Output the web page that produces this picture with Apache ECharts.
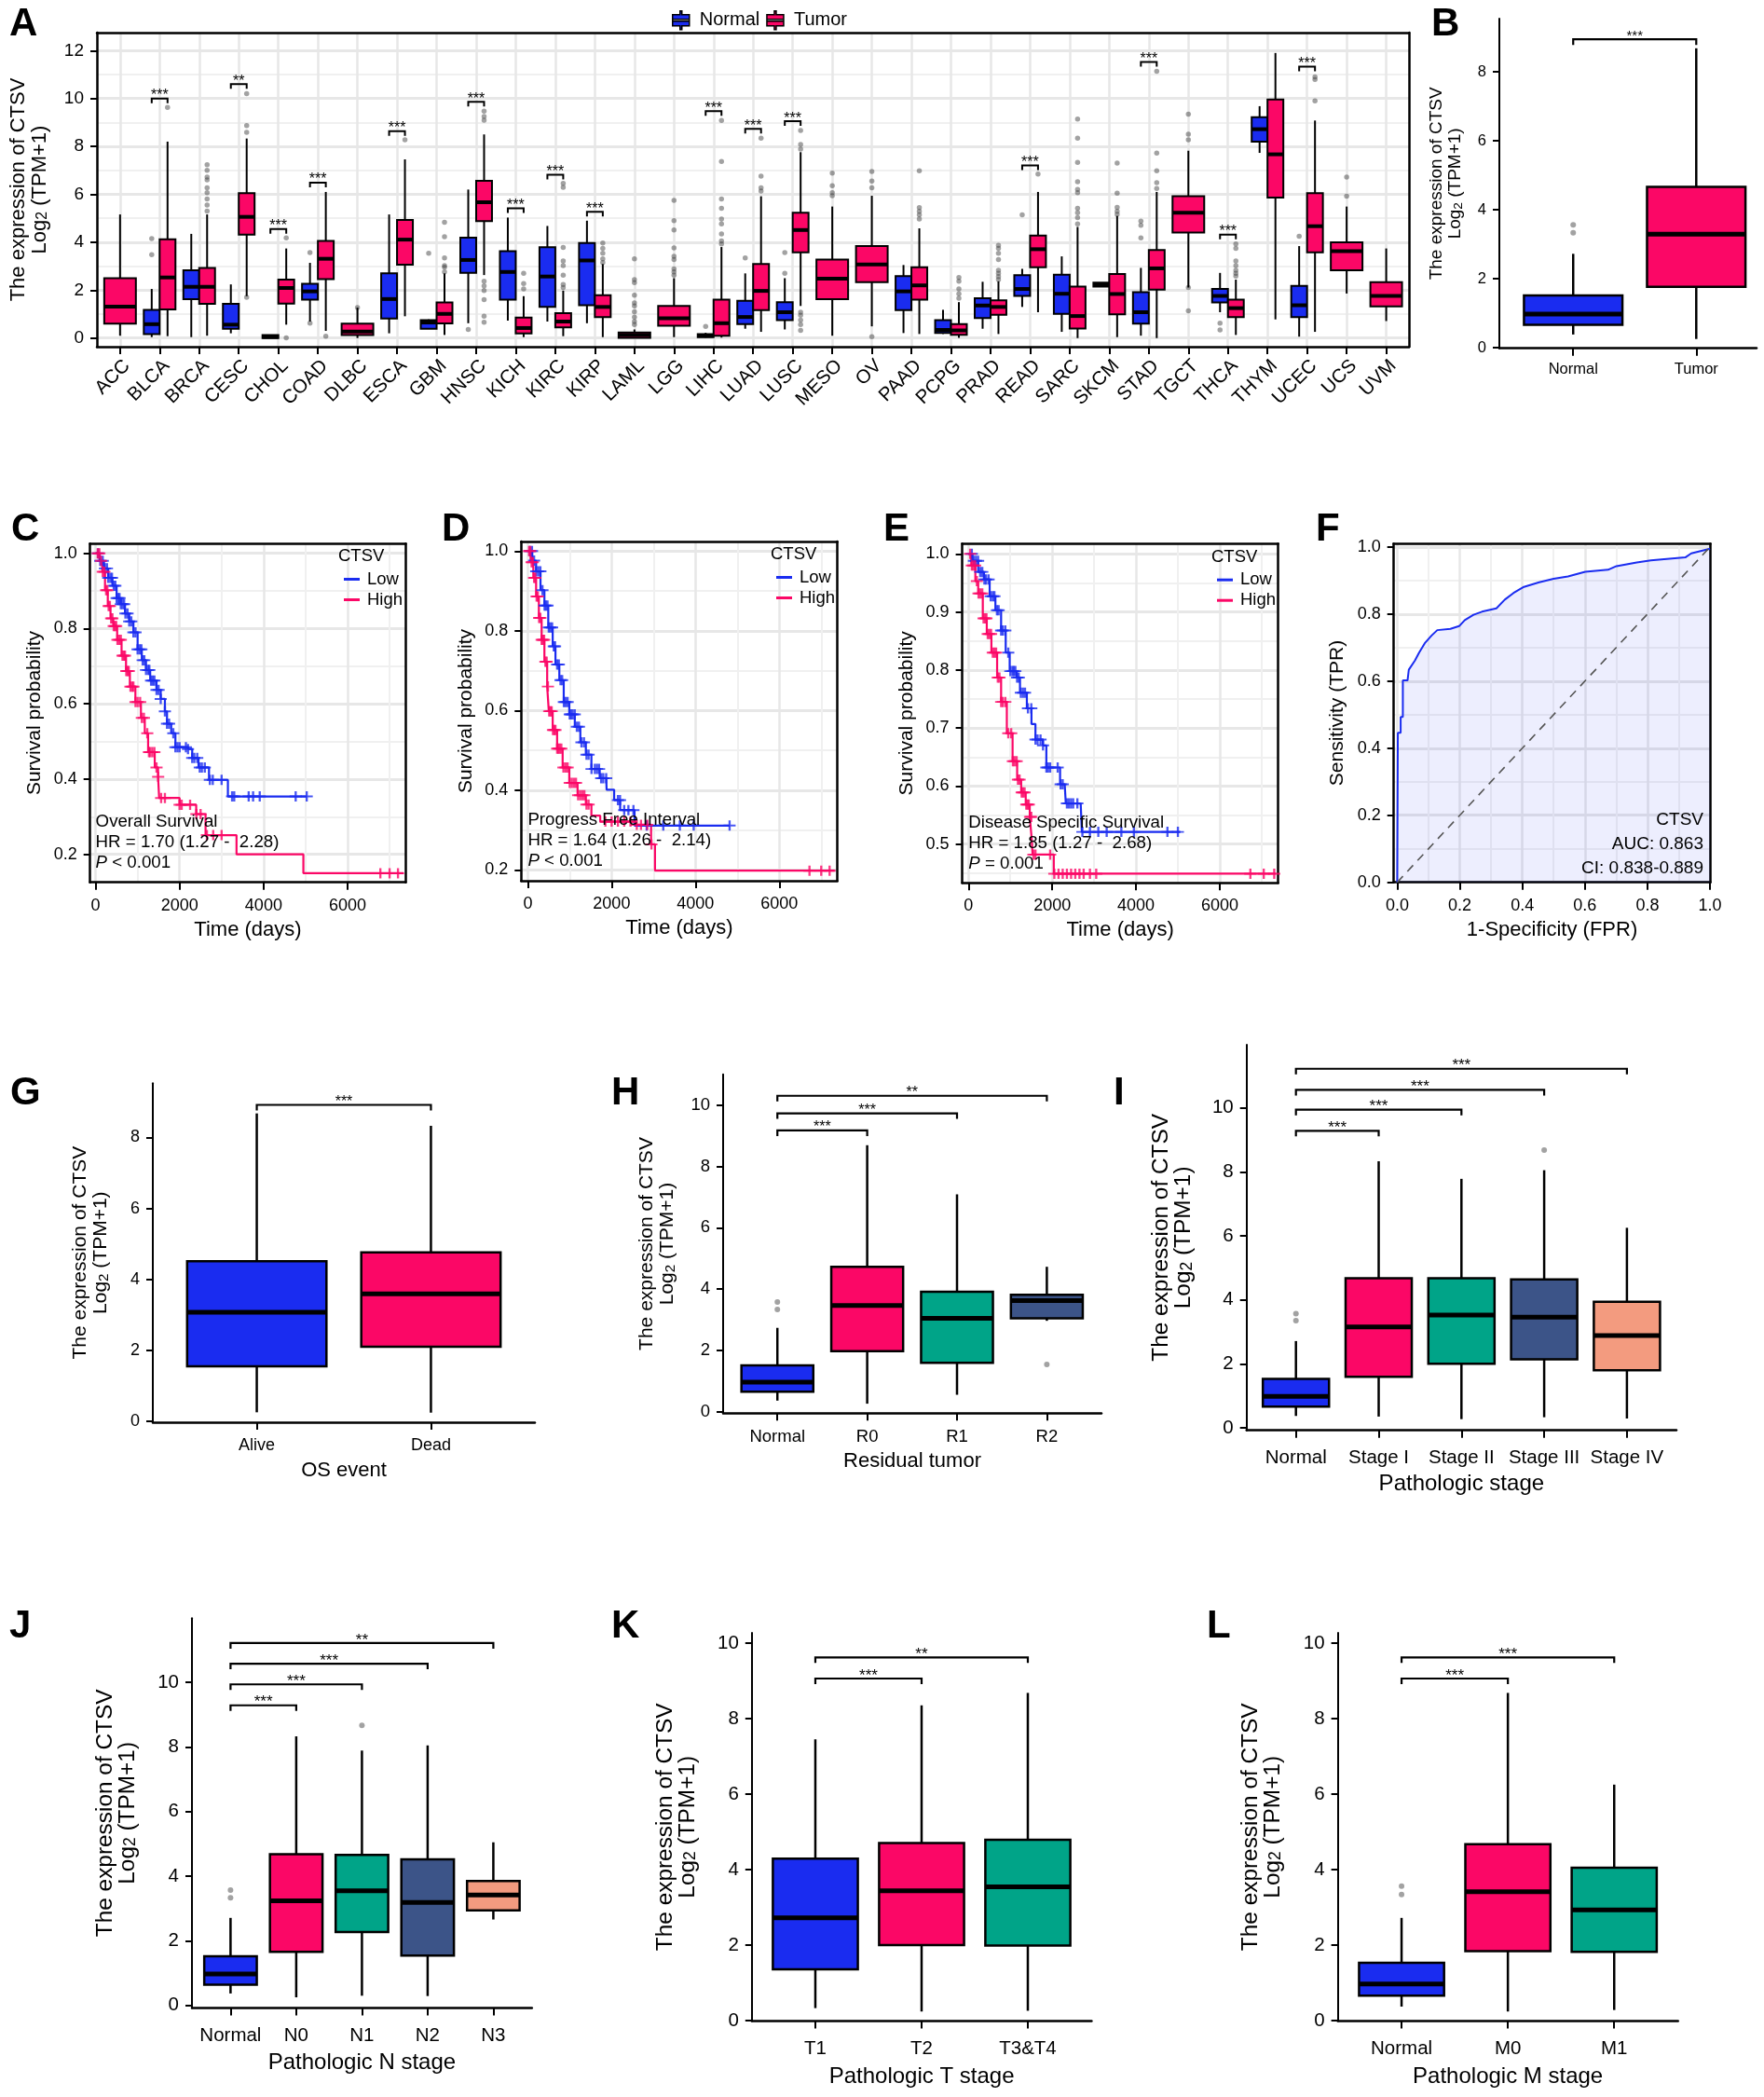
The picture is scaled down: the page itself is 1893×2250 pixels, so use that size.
<!DOCTYPE html>
<html>
<head>
<meta charset="utf-8">
<style>html,body{margin:0;padding:0;background:#fff}#main{width:1893px;height:2250px}</style>
<script src="https://cdn.jsdelivr.net/npm/echarts@6/dist/echarts.min.js"></script>
</head>
<body>
<div id="main"></div>
<script>
// box values are [low whisker, q1, median, q3, high whisker]
var aCategories = ['ACC','BLCA','BRCA','CESC','CHOL','COAD','DLBC','ESCA','GBM','HNSC','KICH','KIRC','KIRP','LAML','LGG','LIHC','LUAD','LUSC','MESO','OV','PAAD','PCPG','PRAD','READ','SARC','SKCM','STAD','TGCT','THCA','THYM','UCEC','UCS','UVM'];
var aNormal = [null,[0.04,0.17,0.58,1.18,2.05],[0.04,1.62,2.14,2.83,4.35],[0.2,0.39,0.56,1.43,2.24],[0.03,0.0,0.05,0.13,0.14],[0.69,1.6,1.95,2.27,3.14],null,[0.2,0.82,1.63,2.7,5.16],[0.39,0.39,0.65,0.75,0.78],[0.62,2.72,3.26,4.19,6.2],[0.73,1.6,2.76,3.63,5.03],[0.69,1.3,2.57,3.79,4.68],[0.62,1.37,3.24,3.97,4.9],null,null,[0.02,0.04,0.1,0.17,0.22],[0.39,0.58,0.88,1.56,2.7],[0.36,0.75,1.08,1.5,2.5],null,null,[0.21,1.17,1.95,2.59,3.05],[0.17,0.21,0.34,0.75,1.18],[0.39,0.84,1.36,1.66,2.35],[1.3,1.76,2.05,2.63,2.89],[0.26,1.01,1.85,2.65,3.41],[2.15,2.15,2.23,2.31,2.31],[0.1,0.6,1.08,1.92,2.93],null,[1.08,1.49,1.76,2.05,2.72],[7.73,8.2,8.72,9.22,9.68],[0.06,0.88,1.37,2.18,3.84],null,null];
var aTumor = [[0.1,0.6,1.31,2.5,5.16],[0.08,1.2,2.53,4.12,8.2],[0.1,1.43,2.14,2.93,5.16],[1.75,4.32,5.06,6.05,8.33],[0.56,1.44,2.09,2.44,3.74],[0.3,2.46,3.31,4.06,6.1],[0.0,0.13,0.27,0.6,1.27],[0.91,3.06,4.11,4.93,7.46],[0.13,0.61,1.01,1.49,2.7],[2.63,4.88,5.67,6.56,8.5],[0.04,0.19,0.42,0.86,1.75],[0.08,0.45,0.69,1.04,1.98],[0.04,0.88,1.3,1.79,3.09],[0.01,0.01,0.13,0.23,0.36],[0.04,0.52,0.83,1.34,2.5],[0.02,0.1,0.62,1.6,3.8],[0.26,1.17,1.97,3.09,5.92],[1.34,3.58,4.51,5.23,7.76],[0.1,1.62,2.48,3.28,5.49],[0.49,2.33,3.07,3.84,5.94],[0.17,1.6,2.2,2.96,4.58],[0.01,0.14,0.32,0.58,1.5],[0.17,0.97,1.3,1.58,2.37],[1.08,2.96,3.71,4.28,6.1],[0.0,0.4,0.92,2.15,4.64],[0.04,0.99,1.84,2.67,5.1],[0.0,2.02,2.91,3.68,6.1],[2.11,4.41,5.23,5.92,7.82],[0.13,0.88,1.25,1.6,2.44],[0.78,5.86,7.67,9.96,11.9],[0.26,3.58,4.67,6.05,9.08],[1.86,2.83,3.63,4.0,5.49],[0.71,1.32,1.76,2.33,3.74]];
var aNormalOutliers = [[],[4.15,3.48],[],[],[],[3.57,0.62],[],[],[3.54],[0.36],[],[],[],[],[],[0.49],[3.35],[3.57,2.7],[],[],[],[],[],[5.14],[],[],[4.88,4.71,4.18],[],[0.62,0.34],[],[4.25],[],[]];
var aTumorOutliers = [[],[9.63],[7.24,7.0,6.72,6.6,6.27,6.07,5.81,5.55,5.3],[10.2,8.87,8.59,1.7],[4.18,0.01],[0.08],[1.27],[8.28],[4.83,4.23,3.35,3.02,2.96,2.76],[9.47,9.25,9.09,2.37,2.18,1.98,1.6,0.91,0.66],[2.7,2.28,2.05],[6.46,6.29,3.78,3.22,3.02,2.63,2.24,2.11],[3.97,3.74,3.54,3.31,3.15],[3.31,2.44,2.31,1.79,1.47,1.34,1.1,0.88,0.69,0.56],[5.75,4.9,4.51,3.76,3.41,3.28,2.89,2.76,2.63],[9.08,7.37,5.81,5.42,4.97,4.77,4.35,4.06,3.93],[8.34,6.76,6.27,6.14],[8.67,8.08,7.89,1.08,0.95,0.75,0.56,0.32],[6.89,6.36,6.07,5.94],[6.95,6.55,6.27,0.06],[6.98,5.45,5.29,5.14,4.97],[2.53,2.37,2.05,1.85,1.66],[3.87,3.74,3.54,3.28,2.83,2.7,2.57,2.44],[6.85],[9.14,8.34,7.33,6.53,6.2,6.07,5.42,5.23,5.03,4.77],[7.3,6.05,5.46,5.29,5.16],[11.14,7.72,6.98,6.49,6.24],[9.35,8.51,8.28,2.11,1.14],[3.93,3.74,3.22,3.02,2.83,2.7,2.59],[],[10.9,10.8,9.9],[6.72,5.92],[]];
// [category index, bracket height, stars]
var aBrackets = [[1,10.0,'***'],[3,10.6,'**'],[4,4.55,'***'],[5,6.49,'***'],[7,8.64,'***'],[9,9.86,'***'],[10,5.42,'***'],[11,6.82,'***'],[12,5.27,'***'],[15,9.47,'***'],[16,8.73,'***'],[17,9.05,'***'],[23,7.21,'***'],[26,11.52,'***'],[28,4.32,'***'],[30,11.33,'***']];

var bCategories = ['Normal','Tumor'];
var bBoxes = [[0.38,0.66,0.97,1.51,2.72],[0.25,1.76,3.29,4.66,8.68]];
var bOutliers = [[3.56,3.33],[]];
var bBrackets = [[0,1,8.94,'***']];

var gCategories = ['Alive','Dead'];
var gBoxes = [[0.25,1.55,3.07,4.51,8.68],[0.24,2.1,3.59,4.76,8.33]];
var gOutliers = [[],[]];
var gBrackets = [[0,1,8.92,'***']];

var hCategories = ['Normal','R0','R1','R2'];
var hBoxes = [[0.37,0.66,0.97,1.52,2.74],[0.27,1.98,3.47,4.73,8.69],[0.56,1.6,3.05,3.92,7.09],[2.97,3.05,3.63,3.82,4.73]];
var hOutliers = [[3.58,3.34],[],[],[1.55]];
var hBrackets = [[0,1,9.17,'***'],[0,2,9.73,'***'],[0,3,10.3,'**']];

var iCategories = ['Normal','Stage I','Stage II','Stage III','Stage IV'];
var iBoxes = [[0.37,0.66,0.98,1.53,2.71],[0.35,1.59,3.15,4.67,8.33],[0.27,2.0,3.52,4.67,7.78],[0.33,2.14,3.46,4.64,8.05],[0.29,1.8,2.88,3.94,6.25]];
var iOutliers = [[3.57,3.35],[],[],[8.68],[]];
var iBrackets = [[0,1,9.28,'***'],[0,2,9.94,'***'],[0,3,10.56,'***'],[0,4,11.22,'***']];

var jCategories = ['Normal','N0','N1','N2','N3'];
var jBoxes = [[0.37,0.64,0.97,1.52,2.71],[0.25,1.66,3.24,4.68,8.33],[0.3,2.27,3.55,4.66,7.89],[0.29,1.54,3.19,4.52,8.05],[2.66,2.94,3.42,3.85,5.05]];
var jOutliers = [[3.57,3.33],[],[8.67],[],[]];
var jBrackets = [[0,1,9.29,'***'],[0,2,9.94,'***'],[0,3,10.58,'***'],[0,4,11.22,'**']];

var kCategories = ['T1','T2','T3&T4'];
var kBoxes = [[0.33,1.36,2.72,4.29,7.45],[0.24,2.0,3.44,4.7,8.35],[0.26,1.99,3.54,4.79,8.68]];
var kOutliers = [[],[],[]];
var kBrackets = [[0,1,9.06,'***'],[0,2,9.62,'**']];

var lCategories = ['Normal','M0','M1'];
var lBoxes = [[0.37,0.66,0.97,1.53,2.72],[0.24,1.84,3.41,4.67,8.68],[0.28,1.82,2.93,4.05,6.25]];
var lOutliers = [[3.56,3.34],[],[]];
var lBrackets = [[0,1,9.06,'***'],[0,2,9.62,'***']];

// survival curves, [days, probability]
var cLow = [[0,1],[100,.98],[200,.96],[300,.935],[400,.914],[500,.881],[600,.865],[700,.84],[800,.819],[900,.79],[1000,.745],[1100,.716],[1200,.69],[1300,.662],[1450,.637],[1550,.613],[1650,.58],[1700,.547],[1800,.522],[1900,.485],[2200,.48],[2300,.456],[2450,.431],[2700,.398],[3150,.354],[5030,.354]];
var cHigh = [[0,1],[92,.98],[158,.951],[224,.902],[290,.86],[355,.827],[421,.807],[513,.77],[618,.728],[724,.687],[816,.646],[947,.605],[1079,.563],[1171,.522],[1250,.472],[1408,.431],[1487,.406],[1513,.35],[2000,.332],[2395,.307],[2618,.251],[3355,.2],[4947,.15],[7330,.15]];
var cLowCensor = [60,110,170,220,270,300,350,390,430,470,500,540,570,600,640,680,710,760,800,850,900,950,1000,1050,1090,1120,1160,1200,1250,1280,1320,1360,1400,1450,1500,1550,1650,1700,1750,1850,1900,1950,2000,2150,2200,2300,2350,2420,2480,2530,2600,2720,2790,3000,3250,3300,3645,3750,3908,4764,5027];
var cHighCensor = [50,90,130,170,210,250,280,310,340,370,400,430,460,490,520,560,600,640,670,700,730,760,790,830,870,900,950,1000,1060,1100,1150,1230,1270,1300,1350,1400,1450,1490,1560,1650,2000,2050,2250,2400,2500,2650,2800,3000,6780,7000,7200];

var dLow = [[0,1],[106,.976],[198,.949],[303,.902],[396,.863],[488,.808],[594,.761],[660,.715],[752,.676],[857,.621],[989,.59],[1121,.559],[1253,.52],[1385,.489],[1517,.453],[1715,.43],[1873,.422],[1880,.401],[2060,.375],[2203,.35],[2546,.311],[4814,.311]];
var dHigh = [[0,1],[66,.972],[132,.933],[198,.886],[264,.832],[330,.777],[396,.722],[462,.66],[501,.598],[594,.551],[699,.504],[831,.457],[989,.418],[1187,.387],[1385,.364],[1517,.336],[1728,.321],[2572,.313],[2941,.264],[3034,.198],[7320,.198]];
var dLowCensor = [50,100,150,200,250,300,350,400,430,470,500,540,580,620,650,700,740,780,820,860,900,950,1000,1030,1070,1120,1170,1220,1280,1340,1400,1450,1520,1600,1650,1700,1750,1800,1870,2150,2200,2300,2400,2520,2836,3232,3627,3957,4814];
var dHighCensor = [30,60,90,120,150,180,210,240,270,300,330,360,390,420,450,480,510,540,570,600,630,660,700,730,760,800,850,900,950,1000,1050,1100,1150,1200,1250,1300,1350,1400,1450,1850,2000,2150,2300,2450,2600,2700,2850,2950,6720,7000,7200];

var eLow = [[0,1],[96,.988],[232,.969],[369,.956],[506,.927],[643,.903],[779,.868],[889,.83],[984,.798],[1148,.787],[1230,.761],[1394,.734],[1504,.707],[1599,.68],[1777,.67],[1859,.632],[2187,.603],[2297,.6],[2324,.57],[2679,.57],[2707,.521],[5058,.521]];
var eHigh = [[0,1],[68,.98],[164,.953],[232,.932],[342,.889],[437,.862],[547,.83],[684,.787],[779,.745],[916,.691],[1053,.643],[1162,.611],[1258,.589],[1367,.568],[1463,.547],[1504,.514],[1531,.482],[2037,.449],[7341,.449]];
var eLowCensor = [80,130,180,230,280,330,380,420,480,530,580,620,680,720,780,820,880,950,1000,1050,1080,1120,1160,1200,1250,1300,1350,1420,1500,1600,1650,1720,1780,1860,1900,1950,2130,2200,2250,2350,2400,2450,2500,2600,2720,2900,3100,3300,3650,3950,4750,5000];
var eHighCensor = [40,80,120,160,200,240,280,330,360,400,430,460,500,540,580,620,660,700,740,780,820,880,950,1020,1060,1100,1150,1180,1220,1270,1300,1340,1380,1410,1440,1470,1500,1550,1600,1950,2050,2150,2250,2350,2450,2550,2650,2750,2900,3050,6730,7050,7300];

var rocCurve = [[0,0],[0.002,.446],[.011,.446],[.011,.493],[.018,.493],[.018,.602],[.033,.602],[.037,.634],[.057,.662],[.07,.685],[.088,.713],[.11,.736],[.128,.752],[.17,.756],[.198,.764],[.216,.782],[.244,.798],[.271,.807],[.317,.817],[.344,.843],[.372,.863],[.405,.881],[.454,.895],[.5,.905],[.546,.912],[.601,.926],[.674,.932],[.701,.943],[.766,.954],[.811,.96],[.921,.969],[.94,.981],[1,.995]];
var rocDiagonal = [[0,0],[1,1]];

var BLUE = '#1a2cf0', PINK = '#fb0766', TEAL = '#00a488', NAVY = '#3c5488', SALMON = '#f39b7f';
var FONT = '"Liberation Sans", Arial, sans-serif';
var GRID_MAJOR = '#e7e7e7', GRID_MINOR = '#f0f0f0';

var grids = [], xAxes = [], yAxes = [], series = [], legends = [], texts = [];

function addText(x, y, text, size, extra) {
    var style = {text: text, x: x, y: y, fontSize: size, fontFamily: FONT, fill: '#000', textVerticalAlign: 'middle'};
    for (var k in extra) { style[k] = extra[k]; }
    texts.push({type: 'text', z: 100, silent: true, style: style});
}

function exprName() {
    return 'The expression of CTSV\n{a|Log}{s|2}{a| (TPM+1)}';
}
function exprStyle(size, lh) {
    return {fontSize: size, lineHeight: lh, color: '#000', fontFamily: FONT, rich: {
        a: {fontSize: size, lineHeight: lh, fontFamily: FONT},
        s: {fontSize: size * 0.72, lineHeight: lh, fontFamily: FONT, verticalAlign: 'bottom'}
    }};
}

function seq(a, b, step) {
    var out = [];
    for (var v = a; v <= b + 1e-9; v += step) { out.push(Math.round(v * 1000) / 1000); }
    return out;
}

function addGrid(p) {
    grids.push({left: p.left, top: p.top, width: p.right - p.left, height: p.bottom - p.top});
    return grids.length - 1;
}

function boxSeries(g, name, items, boxWidth, lineW, medW) {
    return {
        type: 'custom', name: name, xAxisIndex: g.x, yAxisIndex: g.y, silent: true, z: 3,
        itemStyle: {color: items.length ? items[0].color : '#000'},
        encode: {x: 0, y: [1, 2, 3, 4, 5]},
        data: items.map(function (it) { return [it.x, it.v[0], it.v[1], it.v[2], it.v[3], it.v[4]]; }),
        renderItem: function (params, api) {
            var it = items[params.dataIndex];
            var x = api.value(0);
            var half = api.size([boxWidth, 0])[0] / 2;
            var cx = api.coord([x, 0])[0];
            var py = [1, 2, 3, 4, 5].map(function (d) { return api.coord([x, api.value(d)])[1]; });
            var wl = {stroke: '#000', lineWidth: lineW};
            return {type: 'group', children: [
                {type: 'line', shape: {x1: cx, y1: py[0], x2: cx, y2: py[1]}, style: wl},
                {type: 'line', shape: {x1: cx, y1: py[3], x2: cx, y2: py[4]}, style: wl},
                {type: 'rect', shape: {x: cx - half, y: py[3], width: half * 2, height: py[1] - py[3]}, style: {fill: it.color, stroke: '#000', lineWidth: lineW}},
                {type: 'line', shape: {x1: cx - half, y1: py[2], x2: cx + half, y2: py[2]}, style: {stroke: '#000', lineWidth: medW}}
            ]};
        }
    };
}

function outlierSeries(g, points, size) {
    return {type: 'scatter', xAxisIndex: g.x, yAxisIndex: g.y, silent: true, z: 2, symbolSize: size,
        itemStyle: {color: 'rgba(60,60,60,0.6)'}, data: points};
}

// each bracket: [x0, x1, height, stars]
function bracketSeries(g, brackets, dropPx, lineW, starSize) {
    return {
        type: 'custom', xAxisIndex: g.x, yAxisIndex: g.y, silent: true, z: 4,
        encode: {x: [0, 1], y: 2},
        data: brackets.map(function (b) { return [b[0], b[1], b[2]]; }),
        renderItem: function (params, api) {
            var a = api.coord([api.value(0), api.value(2)]);
            var b = api.coord([api.value(1), api.value(2)]);
            return {type: 'group', children: [
                {type: 'polyline', shape: {points: [[a[0], a[1] + dropPx], a, b, [b[0], b[1] + dropPx]]}, style: {stroke: '#000', lineWidth: lineW, fill: 'none'}},
                {type: 'text', style: {text: brackets[params.dataIndex][3], x: (a[0] + b[0]) / 2, y: a[1] - 3, textAlign: 'center', textVerticalAlign: 'middle', fontSize: starSize, fontFamily: FONT, fill: '#000'}}
            ]};
        }
    };
}

function boxPanel(p, cats, boxes, outliers, brackets, colors) {
    var gi = addGrid(p);
    var ticks = cats.map(function (c, i) { return i; });
    xAxes.push({
        type: 'value', gridIndex: gi, min: p.xMin, max: p.xMax, name: p.xName || '', nameLocation: 'middle', nameGap: p.xGap,
        nameMoveOverlap: false,
        nameTextStyle: {fontSize: p.xTitle, color: '#000', fontFamily: FONT},
        axisLine: {onZero: false, lineStyle: {color: '#000', width: 2.5}},
        axisTick: {customValues: ticks, length: 8, lineStyle: {color: '#000', width: 2}},
        axisLabel: {customValues: ticks, color: '#000', fontSize: p.tick, margin: p.xMargin, fontFamily: FONT,
            formatter: function (v) { return cats[v]; }},
        splitLine: {show: false}
    });
    yAxes.push({
        type: 'value', gridIndex: gi, min: p.yMin, max: p.yMax, name: exprName(), nameLocation: 'middle', nameRotate: 90, nameGap: p.yGap,
        nameMoveOverlap: false, nameTextStyle: exprStyle(p.yTitle, p.yLine),
        axisLine: {show: true, onZero: false, lineStyle: {color: '#000', width: 2}},
        axisTick: {show: true, customValues: p.yTicks, length: 7, lineStyle: {color: '#000', width: 2}},
        axisLabel: {customValues: p.yTicks, color: '#000', fontSize: p.tick, margin: 14, fontFamily: FONT},
        splitLine: {show: false}
    });
    var g = {x: xAxes.length - 1, y: yAxes.length - 1};
    var items = boxes.map(function (v, i) { return {x: i, v: v, color: colors[i]}; });
    series.push(boxSeries(g, '', items, 0.8, 2.5, 5));
    var pts = [];
    outliers.forEach(function (list, i) { list.forEach(function (o) { pts.push([i, o]); }); });
    if (pts.length) { series.push(outlierSeries(g, pts, 6)); }
    series.push(bracketSeries(g, brackets, p.drop, 2.2, p.stars));
}

// primary axes plus a frame/minor-gridline axis pair
function framedAxes(p, xMajor, xMinor, yMajor, yMinor, xFmt, yFmt, yName, yStyle, xName) {
    var gi = addGrid(p);
    var frameLine = {show: true, onZero: false, lineStyle: {color: '#000', width: 2.5}};
    xAxes.push({type: 'value', gridIndex: gi, min: p.xMin, max: p.xMax, name: xName || '', nameLocation: 'middle', nameGap: p.xGap, nameMoveOverlap: false,
        nameTextStyle: {fontSize: p.xTitle, color: '#000', fontFamily: FONT}, axisLine: frameLine,
        axisTick: {customValues: xMajor, length: 8, lineStyle: {color: '#000', width: 2}},
        axisLabel: {customValues: xMajor, color: '#000', fontSize: p.xTick || p.tick, margin: p.xMargin, fontFamily: FONT, formatter: xFmt, rotate: p.xRotate || 0, verticalAlign: p.xAlign},
        splitLine: {show: true, lineStyle: {color: GRID_MAJOR, width: p.gridW}}});
    xAxes.push({type: 'value', gridIndex: gi, position: 'top', min: p.xMin, max: p.xMax, axisLine: frameLine,
        axisTick: {show: false, customValues: xMinor}, axisLabel: {show: false},
        splitLine: {show: xMinor.length > 0, lineStyle: {color: GRID_MINOR, width: 2}}});
    yAxes.push({type: 'value', gridIndex: gi, min: p.yMin, max: p.yMax, name: yName, nameLocation: 'middle', nameRotate: 90, nameGap: p.yGap, nameMoveOverlap: false,
        nameTextStyle: yStyle, axisLine: frameLine,
        axisTick: {show: true, customValues: yMajor, length: 7, lineStyle: {color: '#000', width: 2}},
        axisLabel: {customValues: yMajor, color: '#000', fontSize: p.tick, margin: 14, fontFamily: FONT, formatter: yFmt},
        splitLine: {show: true, lineStyle: {color: GRID_MAJOR, width: p.gridW + 0.5}}});
    yAxes.push({type: 'value', gridIndex: gi, position: 'right', min: p.yMin, max: p.yMax, axisLine: frameLine,
        axisTick: {show: false, customValues: yMinor}, axisLabel: {show: false},
        splitLine: {show: true, lineStyle: {color: GRID_MINOR, width: 2}}});
    return {x: xAxes.length - 2, y: yAxes.length - 2};
}

function stepValue(curve, t) {
    var s = curve[0][1];
    for (var i = 0; i < curve.length; i++) { if (curve[i][0] <= t) { s = curve[i][1]; } }
    return s;
}

function kmLine(g, name, color, curve) {
    return {type: 'line', name: name, xAxisIndex: g.x, yAxisIndex: g.y, step: 'end', symbol: 'none', silent: true, z: 3,
        itemStyle: {color: color}, lineStyle: {color: color, width: 2.2}, data: curve};
}
function kmCensor(g, color, curve, times) {
    return {type: 'scatter', xAxisIndex: g.x, yAxisIndex: g.y, silent: true, z: 3,
        symbol: 'path://M4.1 0h1.8v4.1H10v1.8H5.9V10H4.1V5.9H0V4.1h4.1z', symbolSize: [13, 11],
        itemStyle: {color: color}, data: times.map(function (t) { return [t, stepValue(curve, t)]; })};
}

function kmPanel(p, low, high, lowC, highC, info, leg) {
    var yStyle = {fontSize: 21, color: '#000', fontFamily: FONT};
    var g = framedAxes(p, [0, 2000, 4000, 6000], [1000, 3000, 5000, 7000], p.yMajor, p.yMinor,
        function (v) { return String(v); }, function (v) { return v.toFixed(1); }, 'Survival probability', yStyle, 'Time (days)');
    series.push(kmLine(g, 'Low', BLUE, low), kmCensor(g, BLUE, low, lowC));
    series.push(kmLine(g, 'High', PINK, high), kmCensor(g, PINK, high, highC));
    addText(info.x, info.y[0], info.name, 18.7);
    addText(info.x, info.y[1], info.hr, 18.7);
    addText(info.x, info.y[2], '{i|P}' + info.p, 18.7, {rich: {i: {fontStyle: 'italic', fontSize: 18.7, fontFamily: FONT}}});
    addText(leg.x, leg.y - 23, 'CTSV', 18.5);
    legends.push({left: leg.x + 1, top: leg.y - 13, orient: 'vertical', itemWidth: 17, itemHeight: 3, itemGap: 3, icon: 'rect', selectedMode: false,
        data: ['Low', 'High'], textStyle: {fontSize: 18.5, color: '#000', fontFamily: FONT, padding: [0, 0, 0, 3]}});
}

// Panel A
(function () {
    var p = {left: 104, right: 1512, top: 35, bottom: 372, xMin: -0.585, xMax: 32.575, yMin: -0.36, yMax: 12.75,
        tick: 19, xTick: 20.5, xMargin: 10, xAlign: 'top', xGap: 0, xTitle: 12, yGap: 50, gridW: 2.5, xRotate: 45};
    var major = seq(0, 12, 2), minor = seq(1, 11, 2);
    var cats = aCategories.map(function (c, i) { return i; });
    var g = framedAxes(p, cats, [], major, minor, function (v) { return aCategories[v]; }, function (v) { return String(v); },
        exprName(), exprStyle(22, 23));
    var normal = [], tumor = [], normalOut = [], tumorOut = [], brackets = [];
    aCategories.forEach(function (c, i) {
        var offset = aNormal[i] ? 0.2 : 0;
        if (aNormal[i]) { normal.push({x: i - offset, v: aNormal[i], color: BLUE}); }
        tumor.push({x: i + offset, v: aTumor[i], color: PINK});
        aNormalOutliers[i].forEach(function (o) { normalOut.push([i - offset, o]); });
        aTumorOutliers[i].forEach(function (o) { tumorOut.push([i + offset, o]); });
    });
    aBrackets.forEach(function (b) { brackets.push([b[0] - 0.2, b[0] + 0.2, b[1], b[2]]); });
    // a single box in a category is twice as wide
    var singles = tumor.filter(function (t) { return t.x % 1 === 0; });
    var pairs = tumor.filter(function (t) { return t.x % 1 !== 0; });
    series.push(boxSeries(g, 'Normal', normal, 0.4, 2, 4));
    series.push(boxSeries(g, 'Tumor', pairs, 0.4, 2, 4));
    series.push(boxSeries(g, '', singles, 0.8, 2, 4));
    series.push(outlierSeries(g, normalOut.concat(tumorOut), 5.5));
    series.push(bracketSeries(g, brackets, 5, 2, 16));
    legends.push({left: 716, top: 6, itemWidth: 18, itemHeight: 20, itemGap: 7, selectedMode: false, data: ['Normal', 'Tumor'],
        icon: 'path://M8 0h2v4h8v12h-8v4H8v-4H0V4h8zM0 9v2h18V9z',
        itemStyle: {borderColor: '#000', borderWidth: 1.5},
        textStyle: {fontSize: 20, color: '#000', fontFamily: FONT, padding: [0, 0, 0, 6]}});
})();

boxPanel({left: 1609, right: 1885, top: 20, bottom: 373.7, xMin: -0.6, xMax: 1.49, yMin: -0.02, yMax: 9.54, yTicks: seq(0, 8, 2),
    tick: 16.5, xMargin: 14, yTitle: 19, yLine: 20, yGap: 37, drop: 6, stars: 15}, bCategories, bBoxes, bOutliers, bBrackets, [BLUE, PINK]);

kmPanel({left: 96.7, right: 435.3, top: 583.3, bottom: 946.7, xMin: -131, xMax: 7382, yMin: 0.1257, yMax: 1.0258,
    tick: 18, xMargin: 16, xGap: 40, xTitle: 22, yGap: 49, gridW: 2.5, yMajor: [0.2, 0.4, 0.6, 0.8, 1.0], yMinor: [0.3, 0.5, 0.7, 0.9]},
    cLow, cHigh, cLowCensor, cHighCensor,
    {x: 102.6, y: [882, 904, 926], name: 'Overall Survival', hr: 'HR = 1.70 (1.27 -  2.28)', p: ' < 0.001'}, {x: 363, y: 620});

kmPanel({left: 559.3, right: 898.6, top: 581, bottom: 945, xMin: -158, xMax: 7385, yMin: 0.1726, yMax: 1.024,
    tick: 18, xMargin: 16, xGap: 40, xTitle: 22, yGap: 49, gridW: 2.5, yMajor: [0.2, 0.4, 0.6, 0.8, 1.0], yMinor: [0.3, 0.5, 0.7, 0.9]},
    dLow, dHigh, dLowCensor, dHighCensor,
    {x: 566.4, y: [880, 902, 924], name: 'Progress Free Interval', hr: 'HR = 1.64 (1.26 -  2.14)', p: ' < 0.001'}, {x: 827, y: 618});

kmPanel({left: 1032.6, right: 1371.6, top: 583.3, bottom: 947.3, xMin: -149, xMax: 7393, yMin: 0.4332, yMax: 1.0177,
    tick: 18, xMargin: 16, xGap: 40, xTitle: 22, yGap: 49, gridW: 2.5, yMajor: [0.5, 0.6, 0.7, 0.8, 0.9, 1.0], yMinor: [0.45, 0.55, 0.65, 0.75, 0.85, 0.95]},
    eLow, eHigh, eLowCensor, eHighCensor,
    {x: 1039.3, y: [882.7, 905, 926.7], name: 'Disease Specific Survival', hr: 'HR = 1.85 (1.27 -  2.68)', p: ' = 0.001'}, {x: 1300, y: 620.7});

// Panel F
(function () {
    var p = {left: 1495.7, right: 1835.4, top: 583.3, bottom: 946.7, xMin: -0.011, xMax: 1.001, yMin: 0, yMax: 1.01,
        tick: 18, xMargin: 16, xGap: 40, xTitle: 22, yGap: 50, gridW: 2.5};
    var major = [0, 0.2, 0.4, 0.6, 0.8, 1.0], minor = [0.1, 0.3, 0.5, 0.7, 0.9];
    var fmt = function (v) { return v.toFixed(1); };
    var g = framedAxes(p, major, minor, major, minor, fmt, fmt, 'Sensitivity (TPR)', {fontSize: 21, color: '#000', fontFamily: FONT}, '1-Specificity (FPR)');
    series.push({type: 'line', xAxisIndex: g.x, yAxisIndex: g.y, symbol: 'none', silent: true, z: 3,
        lineStyle: {color: BLUE, width: 2}, areaStyle: {color: 'rgba(26,44,240,0.11)'}, data: rocCurve});
    series.push({type: 'line', xAxisIndex: g.x, yAxisIndex: g.y, symbol: 'none', silent: true, z: 3,
        lineStyle: {color: '#555', width: 1.6, type: [9, 7]}, data: rocDiagonal});
    addText(1828, 880, 'CTSV', 19, {textAlign: 'right'});
    addText(1828, 906, 'AUC: 0.863', 19, {textAlign: 'right'});
    addText(1828, 932, 'CI: 0.838-0.889', 19, {textAlign: 'right'});
})();

boxPanel({left: 164, right: 574, top: 1162.3, bottom: 1526, xMin: -0.597, xMax: 1.597, yMin: -0.03, yMax: 9.53, yTicks: seq(0, 8, 2),
    tick: 18, xMargin: 16, xName: 'OS event', xGap: 41, xTitle: 22, yTitle: 21, yLine: 22, yGap: 45, drop: 6, stars: 16}, gCategories, gBoxes, gOutliers, gBrackets, [BLUE, PINK]);

boxPanel({left: 776, right: 1182, top: 1152.7, bottom: 1516.3, xMin: -0.604, xMax: 3.608, yMin: -0.04, yMax: 11.0, yTicks: seq(0, 10, 2),
    tick: 18.5, xMargin: 16, xName: 'Residual tumor', xGap: 41, xTitle: 22, yTitle: 21, yLine: 22, yGap: 49, drop: 6, stars: 16}, hCategories, hBoxes, hOutliers, hBrackets, [BLUE, PINK, TEAL, NAVY]);

boxPanel({left: 1337.7, right: 1799, top: 1121, bottom: 1534.7, xMin: -0.597, xMax: 4.598, yMin: -0.08, yMax: 11.97, yTicks: seq(0, 10, 2),
    tick: 20.5, xMargin: 19, xName: 'Pathologic stage', xGap: 46, xTitle: 24, yTitle: 24.4, yLine: 24, yGap: 55, drop: 6, stars: 17}, iCategories, iBoxes, iOutliers, iBrackets, [BLUE, PINK, TEAL, NAVY, SALMON]);

boxPanel({left: 206, right: 570.8, top: 1736.2, bottom: 2154.5, xMin: -0.587, xMax: 4.587, yMin: -0.08, yMax: 11.99, yTicks: seq(0, 10, 2),
    tick: 20.5, xMargin: 19, xName: 'Pathologic N stage', xGap: 47, xTitle: 24, yTitle: 24.4, yLine: 24, yGap: 57, drop: 6, stars: 17}, jCategories, jBoxes, jOutliers, jBrackets, [BLUE, PINK, TEAL, NAVY, SALMON]);

boxPanel({left: 806.8, right: 1171.4, top: 1752, bottom: 2168.6, xMin: -0.598, xMax: 2.6, yMin: -0.015, yMax: 10.27, yTicks: seq(0, 10, 2),
    tick: 20.5, xMargin: 19, xName: 'Pathologic T stage', xGap: 48, xTitle: 24, yTitle: 24.4, yLine: 24, yGap: 57, drop: 6, stars: 17}, kCategories, kBoxes, kOutliers, kBrackets, [BLUE, PINK, TEAL]);

boxPanel({left: 1435.6, right: 1800.7, top: 1752, bottom: 2168.6, xMin: -0.6, xMax: 2.6, yMin: -0.015, yMax: 10.27, yTicks: seq(0, 10, 2),
    tick: 20.5, xMargin: 19, xName: 'Pathologic M stage', xGap: 48, xTitle: 24, yTitle: 24.4, yLine: 24, yGap: 57, drop: 6, stars: 17}, lCategories, lBoxes, lOutliers, lBrackets, [BLUE, PINK, TEAL]);

// Panel letters
[['A', 10, 26], ['B', 1536, 26], ['C', 12, 568], ['D', 474, 568], ['E', 948, 568], ['F', 1412, 568],
 ['G', 11, 1173], ['H', 656, 1173], ['I', 1195, 1173], ['J', 10, 1745], ['K', 656, 1745], ['L', 1295, 1745]].forEach(function (l) {
    addText(l[1], l[2], l[0], 42, {fontWeight: 'bold'});
});

var chart = echarts.init(document.getElementById('main'));
chart.setOption({
    animation: false,
    backgroundColor: '#fff',
    textStyle: {fontFamily: FONT},
    grid: grids,
    xAxis: xAxes,
    yAxis: yAxes,
    legend: legends,
    series: series,
    graphic: {elements: texts}
});
</script>
</body>
</html>
